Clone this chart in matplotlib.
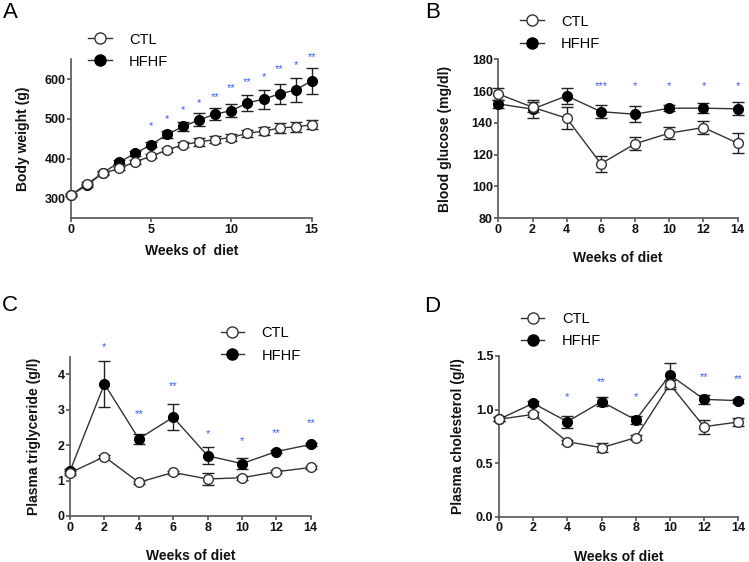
import numpy as np
import matplotlib
matplotlib.use('Agg')
import matplotlib.pyplot as plt
from matplotlib.lines import Line2D

plt.rcParams['font.family'] = ['Liberation Sans', 'DejaVu Sans']

star_col = '#3b5bff'
axis_col = '#555555'

# Panel A - body weight
wk_a = np.arange(0, 16)
bw_ctl = [308, 337, 363, 375, 392, 406, 422, 435, 442, 448, 453, 464, 469, 477, 480, 485]
bw_ctl_err = [3, 4, 4, 4, 5, 5, 5, 7, 10, 10, 9, 9, 10, 13, 13, 11]
bw_hfhf = [308, 333, 364, 391, 413, 435, 461, 481, 498, 512, 521, 540, 550, 563, 573, 596]
bw_hfhf_err = [3, 4, 4, 5, 6, 7, 9, 12, 16, 16, 17, 19, 24, 25, 30, 32]
bw_stars = ['', '', '', '', '', '*', '*', '*', '*', '**', '**', '**', '*', '**', '*', '**']
bw_star_y = [0, 0, 0, 0, 0, 483, 500, 523, 541, 556, 577, 594, 606, 626, 636, 657]

# Panel B - blood glucose
wk = np.arange(0, 15, 2)
bg_ctl = [158.2, 149.8, 142.9, 114.2, 126.8, 133.5, 137.0, 127.2]
bg_ctl_err = [4, 3, 7, 5, 4, 4, 4, 6.5]
bg_hfhf = [151.9, 148.6, 157.0, 147.0, 145.4, 149.2, 149.2, 148.8]
bg_hfhf_err = [2.5, 5.8, 5, 4, 5, 2, 3, 4]
bg_stars = ['', '', '', '***', '*', '*', '*', '*']
bg_star_y = [0, 0, 0, 163, 163, 163, 163, 163]

# Panel C - plasma triglyceride
tg_ctl = [1.22, 1.675, 0.95, 1.23, 1.045, 1.08, 1.25, 1.37]
tg_ctl_err = [0.05, 0.05, 0.04, 0.05, 0.16, 0.05, 0.05, 0.05]
tg_hfhf = [1.27, 3.73, 2.18, 2.79, 1.70, 1.48, 1.82, 2.02]
tg_hfhf_err = [0.05, 0.645, 0.15, 0.37, 0.235, 0.15, 0.05, 0.05]
tg_stars = ['', '*', '**', '**', '*', '*', '**', '**']
tg_star_y = [0, 4.76, 2.88, 3.67, 2.31, 2.11, 2.35, 2.62]

# Panel D - plasma cholesterol
ch_ctl = [0.909, 0.955, 0.70, 0.644, 0.738, 1.235, 0.84, 0.884]
ch_ctl_err = [0.02, 0.02, 0.02, 0.04, 0.02, 0.04, 0.065, 0.035]
ch_hfhf = [0.909, 1.058, 0.887, 1.074, 0.903, 1.323, 1.095, 1.083]
ch_hfhf_err = [0.02, 0.02, 0.056, 0.04, 0.04, 0.11, 0.04, 0.02]
ch_stars = ['', '', '*', '**', '*', '', '**', '**']
ch_star_y = [0, 0, 1.114, 1.26, 1.12, 0, 1.30, 1.286]


def panel(ax, x, ctl, ctl_err, hfhf, hfhf_err, stars, star_y, xlim, ylim,
          xticks, yticks, yfmt, ylabel, xlabel, leg_pos, letter, letter_pos,
          ypad, xpad):
    ax.errorbar(x, hfhf, yerr=hfhf_err, fmt='o-', color='#333333', mfc='black', mec='black',
                ms=7, lw=1, capsize=4, elinewidth=1, capthick=1, ecolor='#222222',
                clip_on=False, zorder=3)
    ax.errorbar(x, ctl, yerr=ctl_err, fmt='o-', color='#333333', mfc='white', mec='#333333',
                ms=7, lw=1, capsize=4, elinewidth=1, capthick=1, ecolor='#222222',
                clip_on=False, zorder=4)
    for xi, s, sy in zip(x, stars, star_y):
        if s:
            ax.text(xi, sy, s, color=star_col, fontsize=8, ha='center', va='center',
                    clip_on=False)
    ax.set_xlim(*xlim)
    ax.set_ylim(*ylim)
    ax.set_xticks(xticks)
    ax.set_yticks(yticks)
    ax.set_yticklabels([yfmt.format(v) for v in yticks])
    for sp in ['top', 'right']:
        ax.spines[sp].set_visible(False)
    for sp in ['left', 'bottom']:
        ax.spines[sp].set_color(axis_col)
        ax.spines[sp].set_linewidth(1.2)
    ax.tick_params(colors=axis_col, width=1.2, length=3, labelsize=9, pad=1)
    for lab in ax.get_xticklabels() + ax.get_yticklabels():
        lab.set_fontweight('bold')
        lab.set_color('#111111')
    ax.set_ylabel(ylabel, fontsize=10, fontweight='bold', color='#111111', labelpad=ypad)
    ax.set_xlabel(xlabel, fontsize=10, fontweight='bold', color='#111111', labelpad=xpad)
    h1 = Line2D([], [], color='#333333', lw=1, marker='o', mfc='white', mec='#333333', ms=8)
    h2 = Line2D([], [], color='#333333', lw=1, marker='o', mfc='black', mec='black', ms=8)
    ax.legend([h1, h2], ['CTL', 'HFHF'], loc='center left', bbox_to_anchor=leg_pos,
              bbox_transform=fig.transFigure, frameon=False, fontsize=10.5,
              handlelength=1.6, handletextpad=1.2, labelspacing=0.55, borderpad=0)
    fig.text(letter_pos[0], letter_pos[1], letter, fontsize=16, ha='left', va='center')


fig = plt.figure(figsize=(7.49, 5.62), dpi=100)
axA = fig.add_axes([0.0948, 0.612, 0.3213, 0.283])
axB = fig.add_axes([0.6653, 0.612, 0.3196, 0.2825])
axC = fig.add_axes([0.0935, 0.0819, 0.3214, 0.2834])
axD = fig.add_axes([0.6662, 0.0806, 0.3195, 0.286])

panel(axA, wk_a, bw_ctl, bw_ctl_err, bw_hfhf, bw_hfhf_err, bw_stars, bw_star_y,
      (0, 15), (250, 651), [0, 5, 10, 15], [300, 400, 500, 600], '{:d}',
      'Body weight (g)', 'Weeks of  diet', (0.108, 0.910), 'A', (0.004, 0.978), 10, 6)
panel(axB, wk, bg_ctl, bg_ctl_err, bg_hfhf, bg_hfhf_err, bg_stars, bg_star_y,
      (0, 14), (80, 180), list(range(0, 15, 2)), [80, 100, 120, 140, 160, 180], '{:d}',
      'Blood glucose (mg/dl)', 'Weeks of diet', (0.685, 0.942), 'B', (0.568, 0.978), 14, 11)
panel(axC, wk, tg_ctl, tg_ctl_err, tg_hfhf, tg_hfhf_err, tg_stars, tg_star_y,
      (0, 14), (0, 4.5), list(range(0, 15, 2)), [0, 1, 2, 3, 4], '{:d}',
      'Plasma triglyceride (g/l)', 'Weeks of diet', (0.285, 0.387), 'C', (0.003, 0.457), 12, 11)
panel(axD, wk, ch_ctl, ch_ctl_err, ch_hfhf, ch_hfhf_err, ch_stars, ch_star_y,
      (0, 14), (0, 1.5), list(range(0, 15, 2)), [0.0, 0.5, 1.0, 1.5], '{:.1f}',
      'Plasma cholesterol (g/l)', 'Weeks of diet', (0.686, 0.412), 'D', (0.566, 0.455), 8, 11)

fig.savefig('out.png', dpi=100)
